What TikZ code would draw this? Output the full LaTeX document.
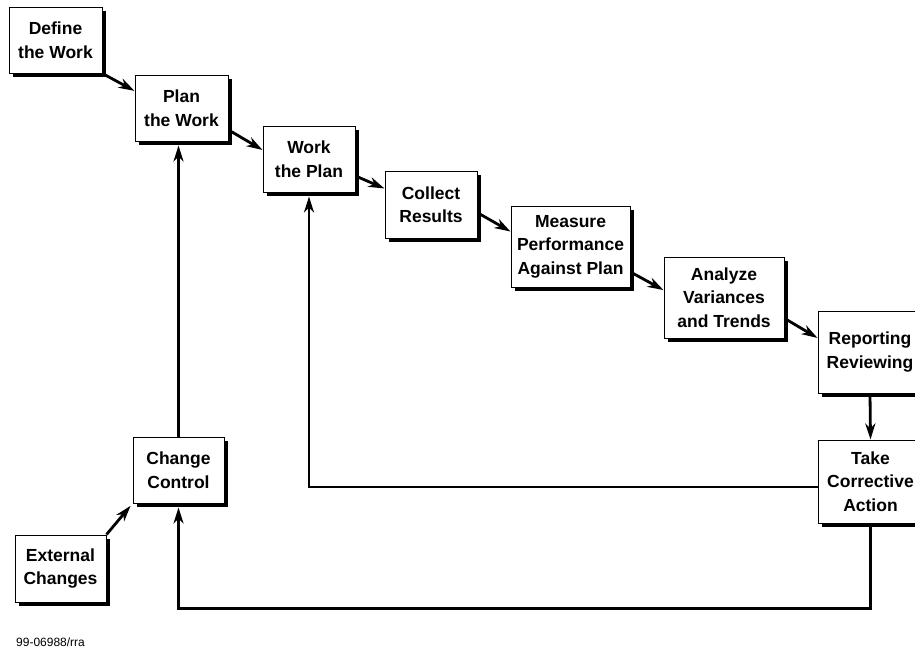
\documentclass[tikz,border=0pt]{standalone}
\usepackage{fontspec}
\setmainfont{Liberation Sans}
\usetikzlibrary{arrows.meta,shadows}

\tikzset{
	stepbox/.style={draw=black, line width=1pt, fill=white, align=center, inner sep=0pt,
		font=\bfseries\fontsize{17.5}{23.5}\selectfont,
		drop shadow={shadow xshift=3.5pt, shadow yshift=-3.5pt, fill=black, opacity=1}},
	flow/.style={line width=2.8pt, -{Stealth[length=16pt,width=10pt,inset=5pt]}},
}

\begin{document}
\begin{tikzpicture}[x=1pt, y=-1pt]
				\useasboundingbox (0,0) rectangle (915,651);
				% the chain of steps
				\node[stepbox, minimum width=93pt, minimum height=66pt] (def) at (55.5,40) {Define\\the Work};
				\node[stepbox, minimum width=93pt, minimum height=66pt] (plan) at (181.5,108) {Plan\\the Work};
				\node[stepbox, minimum width=92pt, minimum height=66pt] (work) at (309,159) {Work\\the Plan};
				\node[stepbox, minimum width=92pt, minimum height=67pt] (coll) at (431,204.5) {Collect\\Results};
				\node[stepbox, minimum width=119pt, minimum height=81pt] (meas) at (570.5,246.5) {Measure\\Performance\\Against Plan};
				\node[stepbox, minimum width=120pt, minimum height=81pt] (anal) at (724,297.5) {Analyze\\Variances\\and Trends};
				\node[stepbox, minimum width=104pt, minimum height=82pt] (rep) at (870,352) {Reporting\\Reviewing};
				\node[stepbox, minimum width=104pt, minimum height=83pt] (take) at (870.5,481.5) {Take\\Corrective\\Action};
				\node[stepbox, minimum width=91pt, minimum height=66pt] (chg) at (178.5,470) {Change\\Control};
				\node[stepbox, minimum width=91pt, minimum height=67pt] (ext) at (60.5,568.5) {External\\Changes};
				\node[anchor=west, font=\fontsize{12}{14}\selectfont, inner sep=0pt] (tag) at (16,642) {99-06988/rra};
				% forward arrows
				\draw[flow] (def.south east) -- (plan.160);
				\draw[flow] (plan.-25) -- (work.169);
				\draw[flow] (work.-20) -- (coll.161);
				\draw[flow] (coll.-10) -- (meas.166);
				\draw[flow] (meas.-23) -- (anal.173);
				\draw[flow] (anal.-19) -- (rep.165);
				\draw[flow, shorten <=3pt] (rep.south) -- (take.north);
				% feedback loops
				\draw[flow, shorten >=4pt] (take.186) -| (work.south);
				\draw[flow, shorten >=4pt] (take.south) -- ++(0,85) -| (chg.south);
				\draw[flow, shorten >=4pt] (chg.north) -- (chg.north |- plan.south);
				\draw[flow, shorten >=3pt] (ext.north east) -- (chg.south west);
			\end{tikzpicture}
\end{document}
